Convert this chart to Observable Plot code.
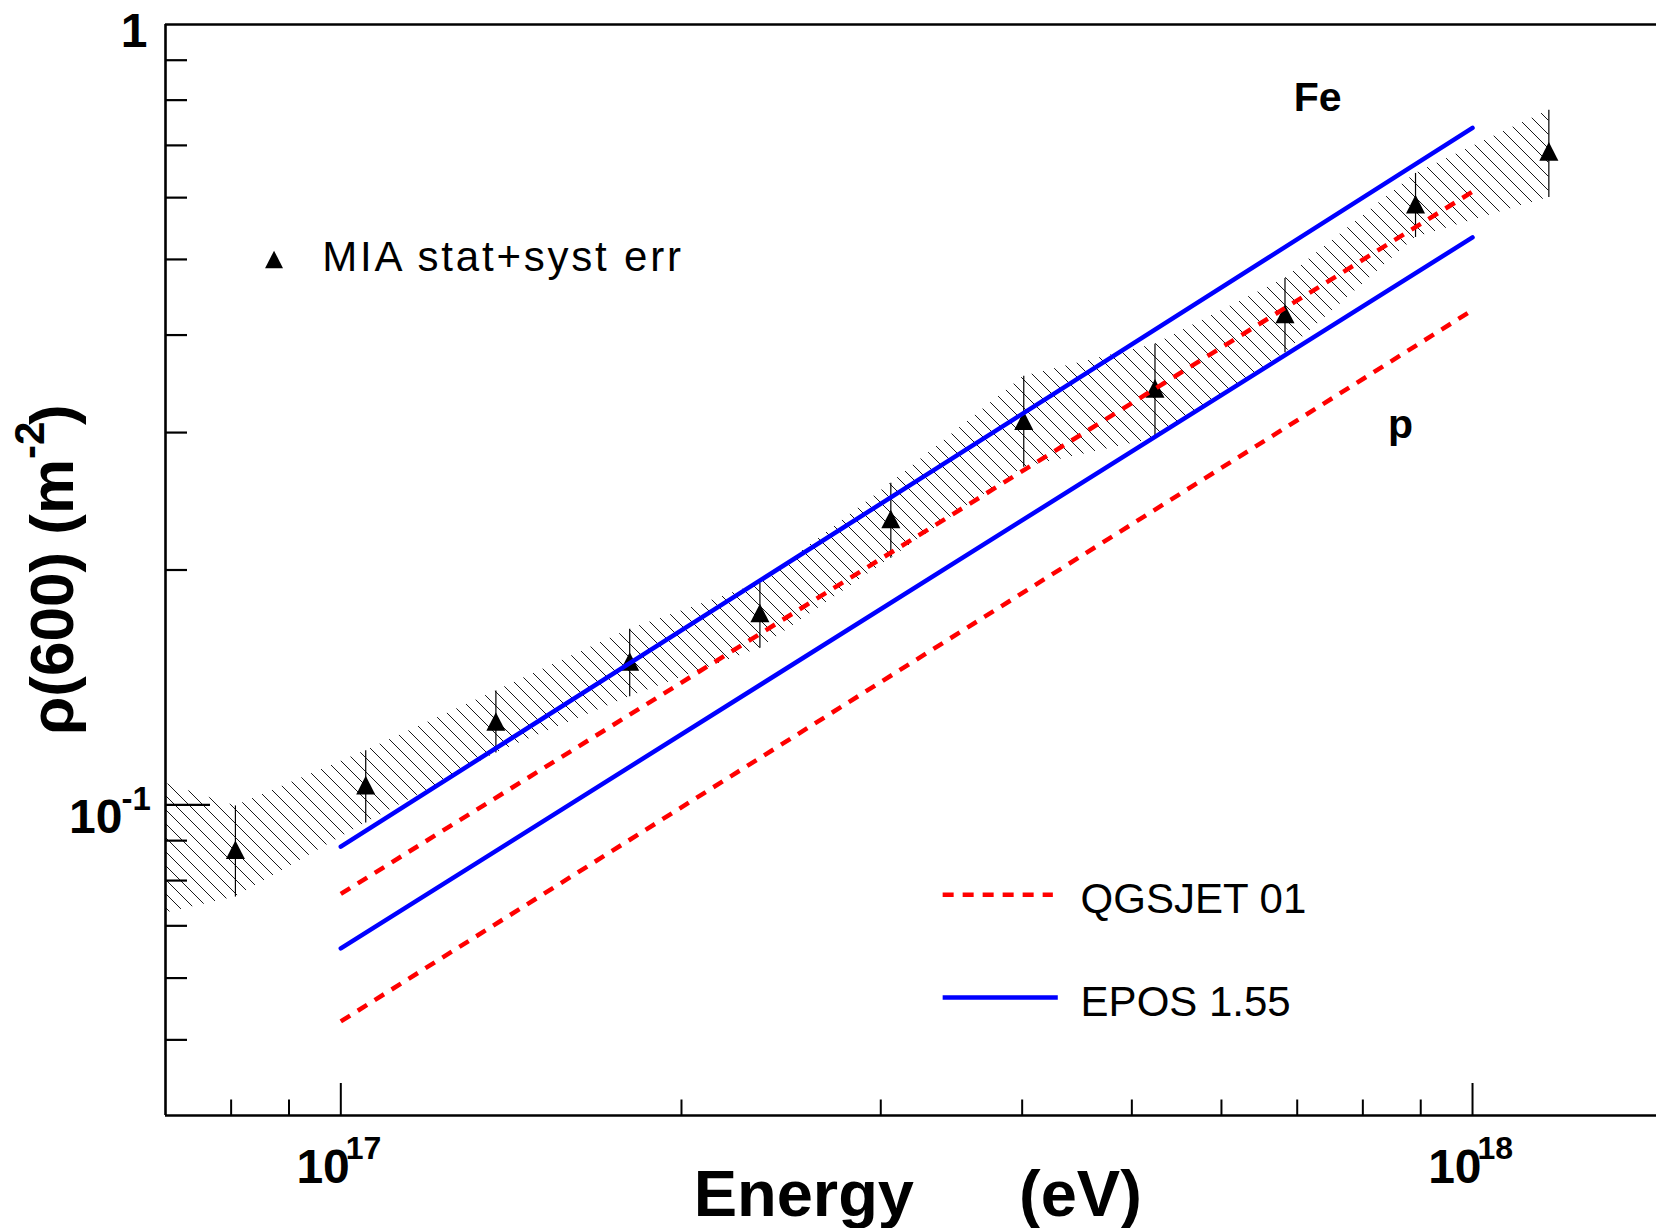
<!DOCTYPE html>
<html>
<head>
<meta charset="utf-8">
<script src="https://cdn.jsdelivr.net/npm/d3@7"></script>
<script src="https://cdn.jsdelivr.net/npm/@observablehq/plot@0.6"></script>
<style>
  html, body { margin: 0; padding: 0; background: #fff; }
  #chart { width: 1656px; height: 1228px; overflow: hidden; }
</style>
</head>
<body>
<div id="chart"></div>
<script>
// ---------------- data ----------------
const energy  = [8.07e16, 1.052e17, 1.371e17, 1.800e17, 2.346e17, 3.062e17, 4.013e17, 5.241e17, 6.828e17, 8.905e17, 1.168e18];
const rho     = [0.0876, 0.1060, 0.1279, 0.1527, 0.1762, 0.2325, 0.3108, 0.3418, 0.4256, 0.5886, 0.6877];
const rhoLow  = [0.0762, 0.0948, 0.1166, 0.1376, 0.1588, 0.2070, 0.2708, 0.2949, 0.3797, 0.5335, 0.6004];
const rhoHigh = [0.0997, 0.1173, 0.1400, 0.1679, 0.1923, 0.2583, 0.3543, 0.3892, 0.4727, 0.6444, 0.7766];

// band continues to a point left of the visible range (clipped by the frame)
const bandPrevEnergy = [6.2e16];
const bandPrevLow    = [0.0698];
const bandPrevHigh   = [0.1129];

// model predictions (straight in log-log) at 1e17 and 1e18 eV
const modelEnergy = [1e17, 1e18];
const eposFe = [0.0884, 0.737];
const eposP  = [0.0655, 0.5336];
const qgsFe  = [0.0769, 0.6106];
const qgsP   = [0.0528, 0.4306];

// axis ticks
const xDomain = [7e16, 1.454e18];
const yDomain = [0.04, 1];
const xMajorTicks = [1e17, 1e18];
const xMinorTicks = [8e16, 9e16, 2e17, 3e17, 4e17, 5e17, 6e17, 7e17, 8e17, 9e17];
const yMajorTicks = [0.1];
const yMinorTicks = [0.05, 0.06, 0.07, 0.08, 0.09, 0.2, 0.3, 0.4, 0.5, 0.6, 0.7, 0.8, 0.9];

// labels
const xTickBase = ["10", "10"];
const xTickExp  = ["17", "18"];
const legendLabels = ["MIA stat+syst err", "QGSJET 01", "EPOS 1.55"];
const compLabels = ["Fe", "p"];

// ---------------- layout ----------------
const W = 1656, H = 1228;
const mL = 165, mR = 0, mT = 24, mB = 113;
const frameW = W - mL - mR, frameH = H - mT - mB;
const FONT = "'Liberation Sans', Arial, Helvetica, sans-serif";
const HATCH = 14; // horizontal distance between hatch lines, px

// in-plot annotation anchors (data coordinates)
const legendPos = {
  mia:  {x: 8.73e16, y: 0.5,    tx: 9.63e16, ty: 0.4835},
  qgs:  {x1: 3.406e17, x2: 4.262e17, y: 0.0767, tx: 4.505e17, ty: 0.07265},
  epos: {x1: 3.406e17, x2: 4.305e17, y: 0.05666, tx: 4.505e17, ty: 0.0537},
  fe:   {x: 6.95e17, y: 0.775},
  p:    {x: 8.42e17, y: 0.2956}
};

// ---------------- tables built from arrays ----------------
const points = energy.map((e, i) => ({e, v: rho[i], lo: rhoLow[i], hi: rhoHigh[i]}));
const band = bandPrevEnergy.map((e, i) => ({e, lo: bandPrevLow[i], hi: bandPrevHigh[i]}))
  .concat(points.map(d => ({e: d.e, lo: d.lo, hi: d.hi})));
const lineTable = (vals) => modelEnergy.map((e, i) => ({e, v: vals[i]}));

const triangle = {
  draw(ctx, size) {
    const r = Math.sqrt(size / Math.PI);
    const h = r * 1.33, w = r * 1.36;
    ctx.moveTo(0, -h);
    ctx.lineTo(w, h);
    ctx.lineTo(-w, h);
    ctx.closePath();
  }
};

const RED = "#ff0000", BLUE = "#0000ff";
const lw = 4.5;

const plot = Plot.plot({
  width: W, height: H,
  marginLeft: mL, marginRight: mR, marginTop: mT, marginBottom: mB,
  style: {fontFamily: FONT, background: "white", color: "black"},
  x: {type: "log", domain: xDomain, axis: null},
  y: {type: "log", domain: yDomain, axis: null},
  marks: [
    // hatched error band
    Plot.areaY(band, {x: "e", y1: "lo", y2: "hi", fill: "url(#hatch)", clip: true}),
    // error bars
    Plot.ruleX(points, {x: "e", y1: "lo", y2: "hi", stroke: "black", strokeWidth: 1.2}),
    // data points
    Plot.dot(points, {x: "e", y: "v", symbol: triangle, r: 7, fill: "black", stroke: "none"}),
    // model lines
    Plot.line(lineTable(qgsFe), {x: "e", y: "v", stroke: RED, strokeWidth: lw, strokeDasharray: "11,9", strokeLinecap: "butt"}),
    Plot.line(lineTable(qgsP),  {x: "e", y: "v", stroke: RED, strokeWidth: lw, strokeDasharray: "11,9", strokeLinecap: "butt"}),
    Plot.line(lineTable(eposFe), {x: "e", y: "v", stroke: BLUE, strokeWidth: lw}),
    Plot.line(lineTable(eposP),  {x: "e", y: "v", stroke: BLUE, strokeWidth: lw}),

    // frame lines (left, top, bottom)
    Plot.ruleX([xDomain[0]], {stroke: "black", strokeWidth: 2.6}),
    Plot.ruleY(yDomain, {stroke: "black", strokeWidth: 2.6}),
    // inward ticks
    Plot.tickY(yMinorTicks, {y: d => d, insetRight: frameW - 22, stroke: "black", strokeWidth: 2.2}),
    Plot.tickY(yMajorTicks, {y: d => d, insetRight: frameW - 45, stroke: "black", strokeWidth: 2.2}),
    Plot.tickX(xMinorTicks, {x: d => d, insetTop: frameH - 15.5, stroke: "black", strokeWidth: 2}),
    Plot.tickX(xMajorTicks, {x: d => d, insetTop: frameH - 32, stroke: "black", strokeWidth: 2}),

    // y tick labels
    Plot.text([yDomain[1]], {y: d => d, frameAnchor: "left", text: () => "1", textAnchor: "end", lineAnchor: "bottom",
      dx: -18, dy: 22, fontSize: 48, fontWeight: "bold", fontFamily: FONT}),
    Plot.text(yMajorTicks, {y: d => d, frameAnchor: "left", text: () => "10", textAnchor: "end", lineAnchor: "bottom",
      dx: -43, dy: 28, fontSize: 48, fontWeight: "bold", fontFamily: FONT}),
    Plot.text(yMajorTicks, {y: d => d, frameAnchor: "left", text: () => "-1", textAnchor: "start", lineAnchor: "bottom",
      dx: -44, dy: 5, fontSize: 33, fontWeight: "bold", fontFamily: FONT}),

    // x tick labels
    Plot.text(xMajorTicks, {x: d => d, frameAnchor: "bottom", text: (d, i) => xTickBase[i], textAnchor: "end", lineAnchor: "bottom",
      dx: 9, dy: 67, fontSize: 48, fontWeight: "bold", fontFamily: FONT}),
    Plot.text(xMajorTicks, {x: d => d, frameAnchor: "bottom", text: (d, i) => xTickExp[i], textAnchor: "start", lineAnchor: "bottom",
      dx: 5, dy: 43, fontSize: 32, fontWeight: "bold", fontFamily: FONT}),

    // x axis title
    Plot.text(["Energy"], {frameAnchor: "bottom", text: d => d, textAnchor: "end", lineAnchor: "bottom",
      dx: 3, dy: 100, fontSize: 65, fontWeight: "bold", fontFamily: FONT}),
    Plot.text(["(eV)"], {frameAnchor: "bottom", text: d => d, textAnchor: "start", lineAnchor: "bottom",
      dx: 108, dy: 100, fontSize: 65, fontWeight: "bold", fontFamily: FONT}),

    // y axis title (rotated), with superscript
    Plot.text(["ρ(600) (m"], {frameAnchor: "left", text: d => d, rotate: -90, textAnchor: "start", lineAnchor: "bottom",
      dx: -93, dy: 165, fontSize: 62, fontWeight: "bold", fontFamily: FONT}),
    Plot.text(["-2"], {frameAnchor: "left", text: d => d, rotate: -90, textAnchor: "start", lineAnchor: "bottom",
      dx: -122, dy: -111, fontSize: 42, fontWeight: "bold", fontFamily: FONT}),
    Plot.text([")"], {frameAnchor: "left", text: d => d, rotate: -90, textAnchor: "start", lineAnchor: "bottom",
      dx: -93, dy: -145, fontSize: 62, fontWeight: "bold", fontFamily: FONT}),

    // component labels
    Plot.text([compLabels[0]], {x: () => legendPos.fe.x, y: () => legendPos.fe.y, text: d => d, textAnchor: "start", lineAnchor: "bottom",
      fontSize: 41, fontWeight: "bold", fontFamily: FONT}),
    Plot.text([compLabels[1]], {x: () => legendPos.p.x, y: () => legendPos.p.y, text: d => d, textAnchor: "start", lineAnchor: "bottom",
      fontSize: 41, fontWeight: "bold", fontFamily: FONT}),

    // legend: MIA
    Plot.dot([legendLabels[0]], {x: () => legendPos.mia.x, y: () => legendPos.mia.y, symbol: triangle, r: 6.6, fill: "black", stroke: "none"}),
    Plot.text([legendLabels[0]], {x: () => legendPos.mia.tx, y: () => legendPos.mia.ty, text: d => d, textAnchor: "start", lineAnchor: "bottom",
      fontSize: 42, fontFamily: FONT}),
    // legend: QGSJET
    Plot.ruleY([legendPos.qgs.y], {x1: legendPos.qgs.x1, x2: legendPos.qgs.x2, stroke: RED, strokeWidth: lw, strokeDasharray: "11,9"}),
    Plot.text([legendLabels[1]], {x: () => legendPos.qgs.tx, y: () => legendPos.qgs.ty, text: d => d, textAnchor: "start", lineAnchor: "bottom",
      fontSize: 42, fontFamily: FONT}),
    // legend: EPOS
    Plot.ruleY([legendPos.epos.y], {x1: legendPos.epos.x1, x2: legendPos.epos.x2, stroke: BLUE, strokeWidth: lw}),
    Plot.text([legendLabels[2]], {x: () => legendPos.epos.tx, y: () => legendPos.epos.ty, text: d => d, textAnchor: "start", lineAnchor: "bottom",
      fontSize: 42, fontFamily: FONT})
  ]
});

// hatch pattern ("\" lines) used by the band fill
const defs = d3.select(plot).insert("defs", ":first-child");
const pat = defs.append("pattern")
  .attr("id", "hatch")
  .attr("patternUnits", "userSpaceOnUse")
  .attr("width", HATCH).attr("height", HATCH);
pat.append("path")
  .attr("d", `M0,0L${HATCH},${HATCH}M-2,${HATCH - 2}L2,${HATCH + 2}M${HATCH - 2},-2L${HATCH + 2},2`)
  .attr("stroke", "black").attr("stroke-width", 0.9).attr("fill", "none");

// the MIA legend text in the reference is set wider than the others
d3.select(plot).selectAll("text")
  .filter(function () { return this.textContent === legendLabels[0]; })
  .attr("letter-spacing", "2.8px");

document.getElementById("chart").appendChild(plot);
</script>
</body>
</html>
